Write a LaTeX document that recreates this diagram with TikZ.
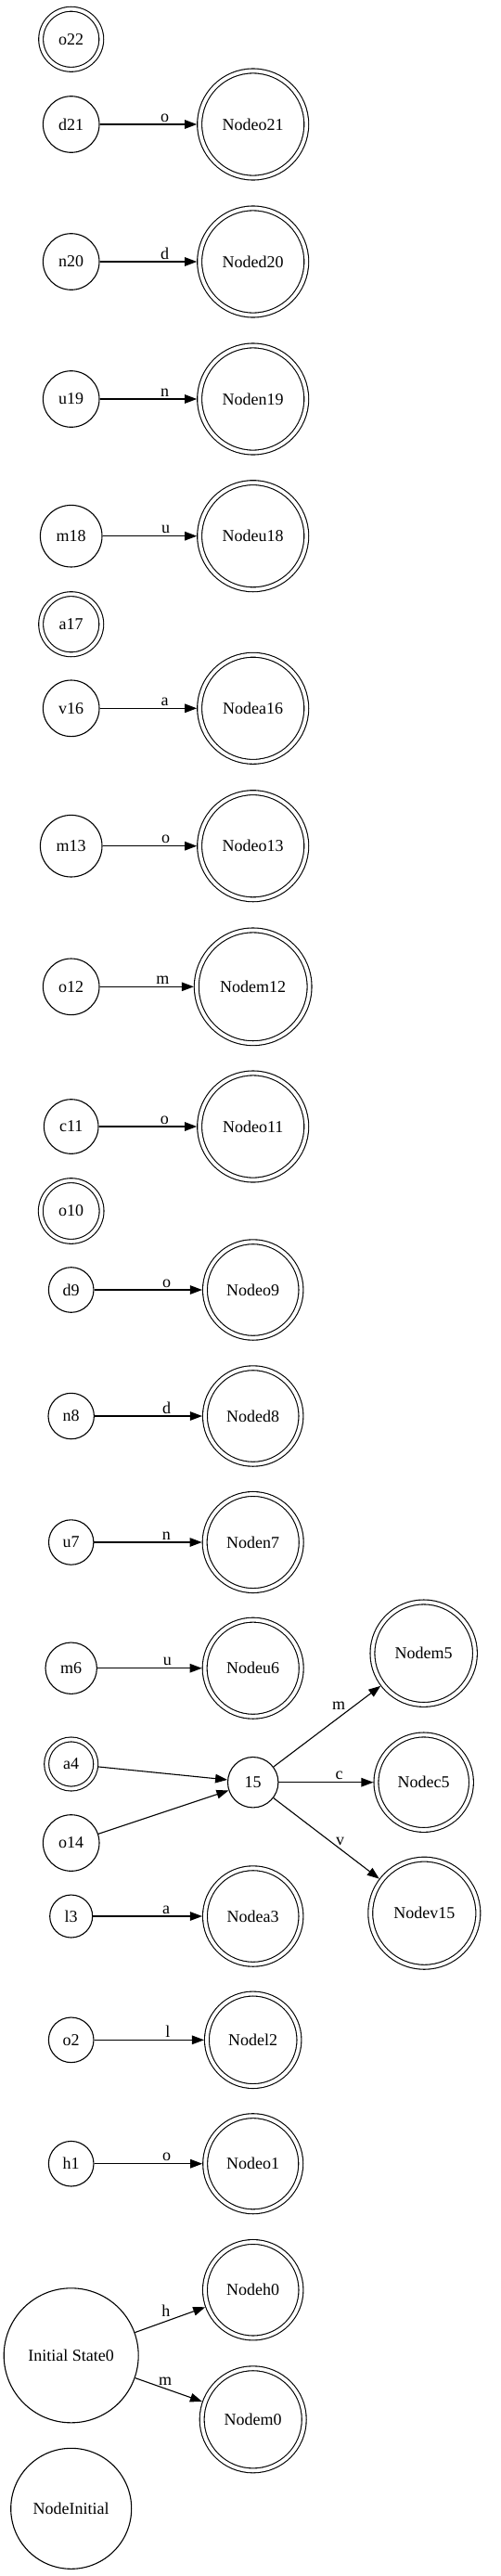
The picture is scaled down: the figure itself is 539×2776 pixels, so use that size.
\documentclass[tikz,border=0pt]{standalone}
\usepackage{fontspec}
\setmainfont{Liberation Serif}
\usetikzlibrary{arrows.meta}

\tikzset{
	plainstate/.style={draw,circle,inner sep=0pt,line width=1.1pt},
	finalstate/.style={plainstate,double,double distance=3.8pt,outer sep=3pt},
	trans/.style={-{Triangle[length=13pt,width=9.5pt]},line width=1.1pt},
	lbl/.style={anchor=base,inner sep=0pt,yshift=3pt},
}

\begin{document}
\begin{tikzpicture}[x=1pt,y=-1pt,font=\fontsize{18}{21}\selectfont]
		\useasboundingbox (0,0) rectangle (539,2776);
		
		% left column
		\node[finalstate,minimum size=65.1pt] (o22) at (76.7,42.3) {o22};
		\node[plainstate,minimum size=60.6pt] (d21) at (76.7,134) {d21};
		\node[plainstate,minimum size=60.6pt] (n20) at (76.7,282) {n20};
		\node[plainstate,minimum size=60.6pt] (u19) at (76.7,430) {u19};
		\node[plainstate,minimum size=66.6pt] (m18) at (76.7,577.7) {m18};
		\node[finalstate,minimum size=65.1pt] (a17) at (76.7,672.7) {a17};
		\node[plainstate,minimum size=60.6pt] (v16) at (76.7,763.3) {v16};
		\node[plainstate,minimum size=66.6pt] (m13) at (76.7,911.7) {m13};
		\node[plainstate,minimum size=60.6pt] (o12) at (76.7,1063.3) {o12};
		\node[plainstate,minimum size=58.6pt] (c11) at (76.7,1214) {c11};
		\node[finalstate,minimum size=65.7pt] (o10) at (76.7,1305) {o10};
		\node[plainstate,minimum size=48.6pt] (d9) at (76.7,1390) {d9};
		\node[plainstate,minimum size=49.4pt] (n8) at (76.7,1526) {n8};
		\node[plainstate,minimum size=48.4pt] (u7) at (76.7,1662) {u7};
		\node[plainstate,minimum size=55.4pt] (m6) at (76.7,1797.7) {m6};
		\node[finalstate,minimum size=53.1pt] (a4) at (76.7,1901) {a4};
		\node[plainstate,minimum size=60.6pt] (o14) at (76.7,1986) {o14};
		\node[plainstate,minimum size=46pt] (l3) at (76.7,2065) {l3};
		\node[plainstate,minimum size=48.6pt] (o2) at (76.7,2198.3) {o2};
		\node[plainstate,minimum size=48.6pt] (h1) at (76.7,2331.7) {h1};
		\node[plainstate,minimum size=145pt] (init0) at (76.7,2538.3) {Initial State0};
		\node[plainstate,minimum size=130pt] (ninit) at (76.7,2703.3) {NodeInitial};
		
		% middle column
		\node[finalstate,minimum size=115.1pt] (no21) at (272.7,134) {Nodeo21};
		\node[finalstate,minimum size=115.1pt] (nd20) at (272.7,282) {Noded20};
		\node[finalstate,minimum size=115.1pt] (nn19) at (272.7,430) {Noden19};
		\node[finalstate,minimum size=115.1pt] (nu18) at (272.7,577.7) {Nodeu18};
		\node[finalstate,minimum size=115.1pt] (na16) at (272.7,763.3) {Nodea16};
		\node[finalstate,minimum size=115.1pt] (no13) at (272.7,911.7) {Nodeo13};
		\node[finalstate,minimum size=121.7pt] (nm12) at (272.7,1063.3) {Nodem12};
		\node[finalstate,minimum size=115.1pt] (no11) at (272.7,1214) {Nodeo11};
		\node[finalstate,minimum size=103.5pt] (no9) at (272.7,1390) {Nodeo9};
		\node[finalstate,minimum size=103.5pt] (nd8) at (272.7,1526) {Noded8};
		\node[finalstate,minimum size=104.1pt] (nn7) at (272.7,1662) {Noden7};
		\node[finalstate,minimum size=104.1pt] (nu6) at (272.7,1797.7) {Nodeu6};
		\node[plainstate,minimum size=54.4pt] (s15) at (272.7,1920.7) {15};
		\node[finalstate,minimum size=103.5pt] (na3) at (272.7,2065) {Nodea3};
		\node[finalstate,minimum size=99.5pt] (nl2) at (272.7,2198.3) {Nodel2};
		\node[finalstate,minimum size=103.1pt] (no1) at (272.7,2331.7) {Nodeo1};
		\node[finalstate,minimum size=103.5pt] (nh0) at (272.7,2467.7) {Nodeh0};
		\node[finalstate,minimum size=110.1pt] (nm0) at (272.7,2607.3) {Nodem0};
		
		% right column
		\node[finalstate,minimum size=110.5pt] (nm5) at (456.7,1781.7) {Nodem5};
		\node[finalstate,minimum size=102.5pt] (nc5) at (456.7,1920.7) {Nodec5};
		\node[finalstate,minimum size=116.1pt] (nv15) at (457.3,2061.7) {Nodev15};
		
		% transitions
		\draw[trans] (d21) -- node[lbl,pos=0.67] {o} (no21);
		\draw[trans] (n20) -- node[lbl,pos=0.67] {d} (nd20);
		\draw[trans] (u19) -- node[lbl,pos=0.67] {n} (nn19);
		\draw[trans] (m18) -- node[lbl,pos=0.67] {u} (nu18);
		\draw[trans] (v16) -- node[lbl,pos=0.67] {a} (na16);
		\draw[trans] (m13) -- node[lbl,pos=0.67] {o} (no13);
		\draw[trans] (o12) -- node[lbl,pos=0.67] {m} (nm12);
		\draw[trans] (c11) -- node[lbl,pos=0.67] {o} (no11);
		\draw[trans] (d9) -- node[lbl,pos=0.67] {o} (no9);
		\draw[trans] (n8) -- node[lbl,pos=0.67] {d} (nd8);
		\draw[trans] (u7) -- node[lbl,pos=0.67] {n} (nn7);
		\draw[trans] (m6) -- node[lbl,pos=0.67] {u} (nu6);
		\draw[trans] (a4) -- (s15);
		\draw[trans] (o14) -- (s15);
		\draw[trans] (s15) -- node[lbl,pos=0.61,yshift=5.5pt] {m} (nm5);
		\draw[trans] (s15) -- node[lbl,pos=0.64] {c} (nc5);
		\draw[trans] (s15) -- node[lbl,pos=0.63,yshift=1pt] {v} (nv15);
		\draw[trans] (l3) -- node[lbl,pos=0.67] {a} (na3);
		\draw[trans] (o2) -- node[lbl,pos=0.67] {l} (nl2);
		\draw[trans] (h1) -- node[lbl,pos=0.67] {o} (no1);
		\draw[trans] (init0) -- node[lbl,pos=0.44,yshift=2pt] {h} (nh0);
		\draw[trans] (init0) -- node[lbl,pos=0.45,yshift=1pt] {m} (nm0);
		\end{tikzpicture}
\end{document}
